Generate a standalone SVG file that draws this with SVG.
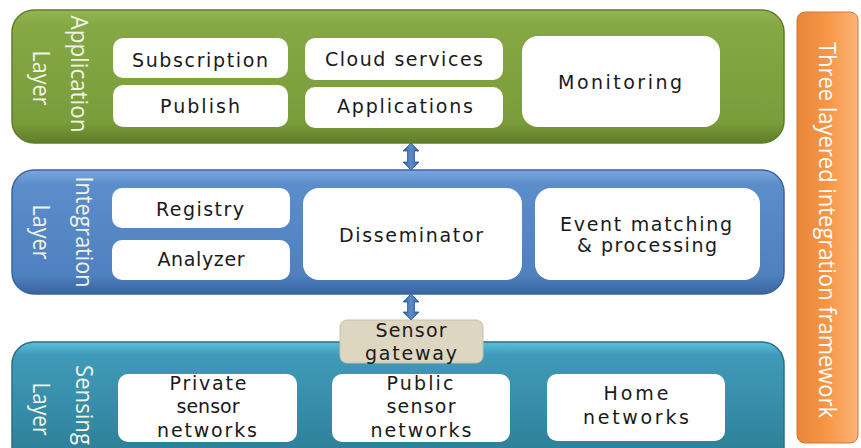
<svg xmlns="http://www.w3.org/2000/svg" width="861" height="448" viewBox="0 0 861 448">
<defs>
<linearGradient id="gGreen" x1="0" y1="0" x2="0" y2="1">
<stop offset="0" stop-color="#94b551"/><stop offset="0.12" stop-color="#85a744"/><stop offset="0.85" stop-color="#7a9c3a"/><stop offset="1" stop-color="#5f7d2a"/>
</linearGradient>
<linearGradient id="gBlue" x1="0" y1="0" x2="0" y2="1">
<stop offset="0" stop-color="#7aa7dd"/><stop offset="0.12" stop-color="#5c8dcb"/><stop offset="0.85" stop-color="#4f80bf"/><stop offset="1" stop-color="#3a64a0"/>
</linearGradient>
<linearGradient id="gTeal" x1="0" y1="0" x2="0" y2="1">
<stop offset="0" stop-color="#5bbfdc"/><stop offset="0.1" stop-color="#3f9ab8"/><stop offset="0.6" stop-color="#348aa5"/><stop offset="1" stop-color="#2c7890"/>
</linearGradient>
<linearGradient id="gOrange" x1="0" y1="0" x2="1" y2="0">
<stop offset="0" stop-color="#e8853a"/><stop offset="0.5" stop-color="#f79646"/><stop offset="1" stop-color="#fbb47a"/>
</linearGradient>
<linearGradient id="gArrow" x1="0" y1="0" x2="1" y2="0">
<stop offset="0" stop-color="#345f9e"/><stop offset="0.5" stop-color="#5b8cc9"/><stop offset="1" stop-color="#345f9e"/>
</linearGradient>
</defs>
<style>
.box{fill:#ffffff;}
.t{font-family:"DejaVu Sans","Verdana",sans-serif;font-size:19px;fill:#1a1a1a;text-anchor:middle;}
.lt{font-family:"Open Sans","Liberation Sans",sans-serif;font-size:23px;fill:#eef4e4;text-anchor:middle;}
.ot{font-family:"Open Sans","Liberation Sans",sans-serif;font-size:23px;fill:#ffffff;text-anchor:middle;}
.arrow{fill:url(#gArrow);stroke:#2f5a94;stroke-width:0.8;}
</style>
<rect width="861" height="448" fill="#ffffff"/>

<g id="framework">
<rect x="797" y="12" width="61" height="431" rx="8" fill="url(#gOrange)" stroke="#d9772f" stroke-width="1"/>
<text class="ot" transform="translate(819,230) rotate(90)" textLength="376" lengthAdjust="spacingAndGlyphs">Three layered integration framework</text>
</g>

<g id="application-layer">
<rect x="12" y="10" width="772" height="133" rx="22" fill="url(#gGreen)" stroke="#5f7d2a" stroke-width="1.5"/>
<text class="lt" transform="translate(71,74) rotate(90)" textLength="117" lengthAdjust="spacingAndGlyphs">Application</text>
<text class="lt" transform="translate(33,78) rotate(90)" textLength="55" lengthAdjust="spacingAndGlyphs">Layer</text>
</g>
<g id="subscription"><rect class="box" x="113" y="38" width="175" height="40" rx="10"/><text class="t" x="200" y="67" textLength="136" lengthAdjust="spacing">Subscription</text></g>
<g id="publish"><rect class="box" x="113" y="85" width="175" height="42" rx="10"/><text class="t" x="200" y="113" textLength="80" lengthAdjust="spacing">Publish</text></g>
<g id="cloud-services"><rect class="box" x="305" y="38" width="198" height="42" rx="10"/><text class="t" x="404" y="66" textLength="158" lengthAdjust="spacing">Cloud services</text></g>
<g id="applications"><rect class="box" x="305" y="87" width="198" height="41" rx="10"/><text class="t" x="405" y="113" textLength="136" lengthAdjust="spacing">Applications</text></g>
<g id="monitoring"><rect class="box" x="522" y="36" width="198" height="91" rx="16"/><text class="t" x="620" y="89" textLength="124" lengthAdjust="spacing">Monitoring</text></g>

<g id="integration-layer">
<rect x="12" y="170" width="772" height="124" rx="22" fill="url(#gBlue)" stroke="#3a64a0" stroke-width="1.5"/>
<text class="lt" transform="translate(76,232) rotate(90)" textLength="111" lengthAdjust="spacingAndGlyphs">Integration</text>
<text class="lt" transform="translate(33,232) rotate(90)" textLength="55" lengthAdjust="spacingAndGlyphs">Layer</text>
</g>
<g id="registry"><rect class="box" x="112" y="188" width="178" height="40" rx="10"/><text class="t" x="200" y="216" textLength="88" lengthAdjust="spacing">Registry</text></g>
<g id="analyzer"><rect class="box" x="112" y="240" width="178" height="40" rx="10"/><text class="t" x="201" y="266" textLength="87" lengthAdjust="spacing">Analyzer</text></g>
<g id="disseminator"><rect class="box" x="303" y="188" width="219" height="92" rx="16"/><text class="t" x="411" y="242" textLength="144" lengthAdjust="spacing">Disseminator</text></g>
<g id="event-matching"><rect class="box" x="535" y="188" width="225" height="92" rx="16"/><text class="t" x="646" y="231" textLength="172" lengthAdjust="spacing">Event matching</text><text class="t" x="647" y="252" textLength="140" lengthAdjust="spacing">&amp; processing</text></g>

<g id="sensing-layer">
<rect x="12" y="342" width="772" height="130" rx="22" fill="url(#gTeal)" stroke="#2a6f86" stroke-width="1.5"/>
<text class="lt" transform="translate(76,405) rotate(90)" textLength="80" lengthAdjust="spacingAndGlyphs">Sensing</text>
<text class="lt" transform="translate(33,409) rotate(90)" textLength="53" lengthAdjust="spacingAndGlyphs">Layer</text>
</g>
<g id="private-sensor-networks"><rect class="box" x="118" y="374" width="179" height="68" rx="10"/><text class="t" x="208" y="390" textLength="77" lengthAdjust="spacing">Private</text><text class="t" x="208" y="413" textLength="63" lengthAdjust="spacing">sensor</text><text class="t" x="207" y="437" textLength="100" lengthAdjust="spacing">networks</text></g>
<g id="public-sensor-networks"><rect class="box" x="332" y="374" width="178" height="68" rx="10"/><text class="t" x="420" y="390" textLength="67" lengthAdjust="spacing">Public</text><text class="t" x="421" y="413" textLength="69" lengthAdjust="spacing">sensor</text><text class="t" x="421" y="437" textLength="101" lengthAdjust="spacing">networks</text></g>
<g id="home-networks"><rect class="box" x="547" y="374" width="178" height="67" rx="10"/><text class="t" x="636" y="400" textLength="65" lengthAdjust="spacing">Home</text><text class="t" x="636" y="424" textLength="106" lengthAdjust="spacing">networks</text></g>

<g id="sensor-gateway"><rect x="340" y="320" width="143" height="43" rx="7" fill="#ddd6c1" stroke="#c9c0a8" stroke-width="1"/><text class="t" x="411" y="337" textLength="71" lengthAdjust="spacing">Sensor</text><text class="t" x="411" y="360" textLength="92" lengthAdjust="spacing">gateway</text></g>

<g id="connectors">
<path class="arrow" d="M411,143 L419,151 L414.5,151 L414.5,162 L419,162 L411,170 L403,162 L407.5,162 L407.5,151 L403,151 Z"/>
<path class="arrow" d="M411,294 L419,302 L414.5,302 L414.5,312 L419,312 L411,320 L403,312 L407.5,312 L407.5,302 L403,302 Z"/>
</g>
</svg>
